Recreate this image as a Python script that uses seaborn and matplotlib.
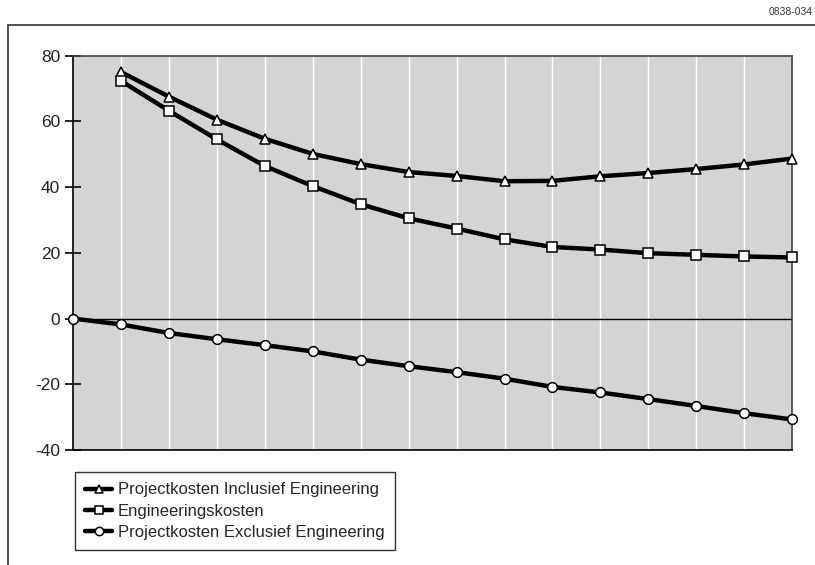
import seaborn as sns
import matplotlib.pyplot as plt
import matplotlib.patches as mpatches
import pandas as pd

# values
steps = list(range(16))
incl_eng = [None, 75.0, 67.5, 60.5, 54.7, 50.1, 47.0, 44.6, 43.4, 41.8, 41.9, 43.3, 44.3, 45.5, 46.9, 48.7]
eng_kosten = [None, 72.3, 63.2, 54.5, 46.4, 40.3, 34.8, 30.5, 27.4, 24.1, 21.8, 21.0, 19.9, 19.4, 18.9, 18.6]
excl_eng = [0.0, -1.8, -4.4, -6.3, -8.1, -10.0, -12.5, -14.5, -16.3, -18.3, -20.8, -22.5, -24.5, -26.6, -28.8, -30.7]
labels = ["Projectkosten Inclusief Engineering", "Engineeringskosten", "Projectkosten Exclusief Engineering"]
markers = ["^", "s", "o"]
y_ticks = [-40, -20, 0, 20, 40, 60, 80]

df = pd.DataFrame({"stap": steps, labels[0]: incl_eng, labels[1]: eng_kosten, labels[2]: excl_eng})
long_df = df.melt(id_vars="stap", var_name="reeks", value_name="waarde").dropna()

sns.set_theme(style="white")
plt.rcParams["font.family"] = ["Liberation Sans", "DejaVu Sans"]
plt.rcParams["axes.unicode_minus"] = False

fig = plt.figure(figsize=(8.15, 5.65), dpi=100)
ax = fig.add_axes([73.3 / 815, 1 - 450 / 565, (792 - 73.3) / 815, (450 - 55.7) / 565])

# outer frame, cut off by the figure edge like in the source
fig.patches.append(mpatches.Rectangle((8 / 815, -0.1), 1.2, 1 - 25 / 565 + 0.1, transform=fig.transFigure,
                                      fill=False, edgecolor="#333333", linewidth=1.2, zorder=0))

ax.set_facecolor("#d4d4d4")
for x in steps[1:-1]:
    ax.axvline(x, color="white", linewidth=1.0, zorder=1)
ax.axhline(0, color="black", linewidth=1.0, zorder=1)

sns.lineplot(data=long_df, x="stap", y="waarde", hue="reeks", style="reeks",
             hue_order=labels, style_order=labels,
             palette=["black"] * 3, markers=markers, dashes=False,
             markersize=7, markerfacecolor="white", markeredgecolor="black", markeredgewidth=1.1,
             linewidth=3.2, ax=ax, legend=False, zorder=3, clip_on=False)

ax.set_xlim(0, 15)
ax.set_ylim(-40, 80)
ax.set_yticks(y_ticks)
ax.set_yticklabels([str(t) for t in y_ticks], fontsize=12.5, color="#222222")
ax.set_xticks([])
ax.set_xlabel("")
ax.set_ylabel("")
ax.tick_params(axis="y", direction="inout", length=11, width=1.2, color="black", left=True, pad=4)
for side in ["left", "bottom"]:
    ax.spines[side].set_color("black")
    ax.spines[side].set_linewidth(1.2)
for side in ["top", "right"]:
    ax.spines[side].set_color("#444444")
    ax.spines[side].set_linewidth(1.2)

handles = [plt.Line2D([], [], color="black", linewidth=3.2, marker=m, markersize=6,
                      markerfacecolor="white", markeredgecolor="black", markeredgewidth=1.1)
           for m in markers]
leg = fig.legend(handles, labels, loc="upper left", bbox_to_anchor=(75 / 815, 1 - 472 / 565),
                 fontsize=12, frameon=True, fancybox=False, edgecolor="black",
                 handlelength=1.6, handletextpad=0.35, labelspacing=0.38, borderpad=0.62,
                 borderaxespad=0)
leg.get_frame().set_linewidth(1.0)
leg.get_frame().set_facecolor("white")

fig.text(813 / 815, 1 - 12 / 565, "0838-034", ha="right", va="center", fontsize=7.5, color="#333333")

fig.savefig("out.png", dpi=100)
